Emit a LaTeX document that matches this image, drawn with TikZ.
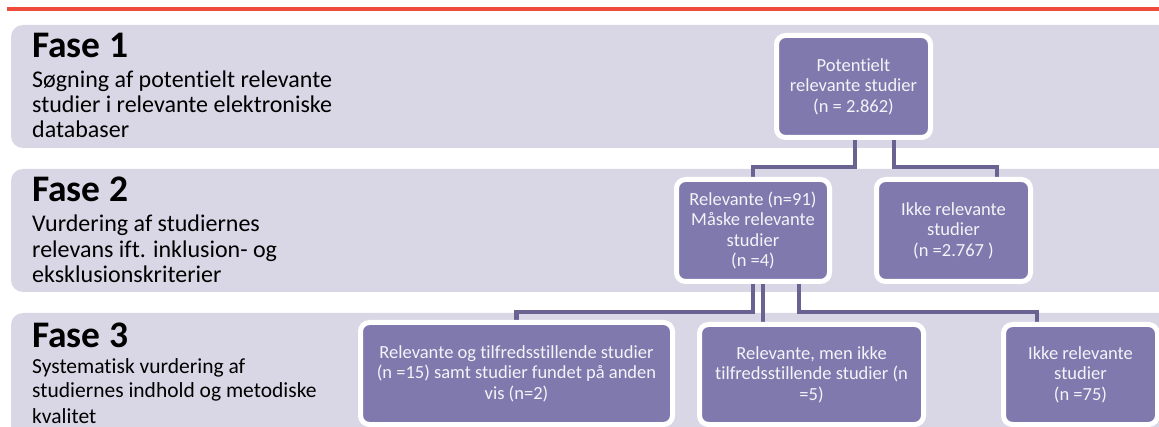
\documentclass[tikz,border=0pt]{standalone}
\usepackage{fontspec}
\setmainfont{Carlito}[Ligatures=NoCommon]
\definecolor{bandc}{HTML}{D9D7E5}
\definecolor{boxc}{HTML}{8079AE}
\definecolor{linec}{HTML}{6A6392}
\definecolor{redc}{HTML}{EE4B3D}
\definecolor{txtc}{HTML}{F4F3F8}
\pgfdeclarelayer{bg}
\pgfdeclarelayer{mid}
\pgfsetlayers{bg,mid,main}
\tikzset{
  band/.style={fill=bandc, rounded corners=12pt},
  stagebox/.style={draw=white, line width=5pt, fill=boxc, rounded corners=9pt, text=txtc, align=center, inner sep=0pt, font=\fontsize{18.5}{20.5}\selectfont},
  conn/.style={draw=linec, line width=4.5pt},
  head/.style={font=\fontsize{37.5}{40}\selectfont\bfseries, anchor=base west, inner sep=0pt},
  body/.style={font=\fontsize{24}{25.4}\selectfont, align=left, anchor=base west, inner sep=0pt},
  smallbody/.style={body, font=\fontsize{21.5}{25}\selectfont},
}
\begin{document}
\begin{tikzpicture}[x=1pt, y=-1pt]
\useasboundingbox (0,0) rectangle (1159,427);
\clip (0,0) rectangle (1159,427);
\begin{pgfonlayer}{bg}
\fill[white] (0,0) rectangle (1159,427);
\fill[band] (11,25) rectangle (1185,148);
\fill[band] (11,169) rectangle (1185,292);
\fill[band] (11,313) rectangle (1185,460);
\draw[redc, line width=4pt] (7,9) -- (1159,9);
\end{pgfonlayer}

% phase labels (base anchor = last line)
\node[head] (h1) at (32,57.3) {Fase 1};
\node[body] (b1) at (32,138) {Søgning af potentielt relevante\\studier i relevante elektroniske\\databaser};
\node[head] (h2) at (32,201.7) {Fase 2};
\node[body] (b2) at (32,282.5) {Vurdering af studiernes\\relevans ift. inklusion- og\\eksklusionskriterier};
\node[head] (h3) at (32,348) {Fase 3};
\node[smallbody] (b3) at (32,423) {Systematisk vurdering af\\studiernes indhold og metodiske\\kvalitet};

% boxes
\node[stagebox, minimum width=154pt, minimum height=102pt] (top) at (853.5,86.5) {Potentielt\\relevante studier\\(n = 2.862)};
\node[stagebox, minimum width=153pt, minimum height=102pt] (f2l) at (753,230.5) {Relevante (n=91)\\Måske relevante\\studier\\(n =4)};
\node[stagebox, minimum width=154pt, minimum height=102pt] (f2r) at (953.5,230.5) {Ikke relevante\\studier\\(n =2.767 )};
\node[stagebox, minimum width=312pt, minimum height=102pt] (f3a) at (516.5,373.5) {Relevante og tilfredsstillende studier\\(n =15) samt studier fundet på anden\\vis (n=2)};
\node[stagebox, minimum width=224pt, minimum height=100pt] (f3b) at (811.5,374.5) {Relevante, men ikke\\tilfredsstillende studier (n\\=5)};
\node[stagebox, minimum width=154pt, minimum height=100pt] (f3c) at (1080.5,374.5) {Ikke relevante\\studier\\(n =75)};

\begin{pgfonlayer}{mid}
\coordinate (t1) at ([xshift=1.5pt]top.south);
\coordinate (t2) at ([xshift=40.5pt]top.south);
\coordinate (m1) at (f2l.south);
\coordinate (m2) at ([xshift=10pt]f2l.south);
\coordinate (m3) at ([xshift=46pt]f2l.south);
\draw[conn] (t1) -- (t1 |- 0,167) -| (f2l.north);
\draw[conn] (t2) -- (t2 |- 0,167) -| ([xshift=43.5pt]f2r.north);
\draw[conn] (m1) -- (m1 |- 0,312) -| (f3a.north);
\draw[conn] (m2) -- (m2 |- f3b.north);
\draw[conn] (m3) -- (m3 |- 0,312) -| ([xshift=-43.5pt]f3c.north);
\end{pgfonlayer}
\end{tikzpicture}
\end{document}
